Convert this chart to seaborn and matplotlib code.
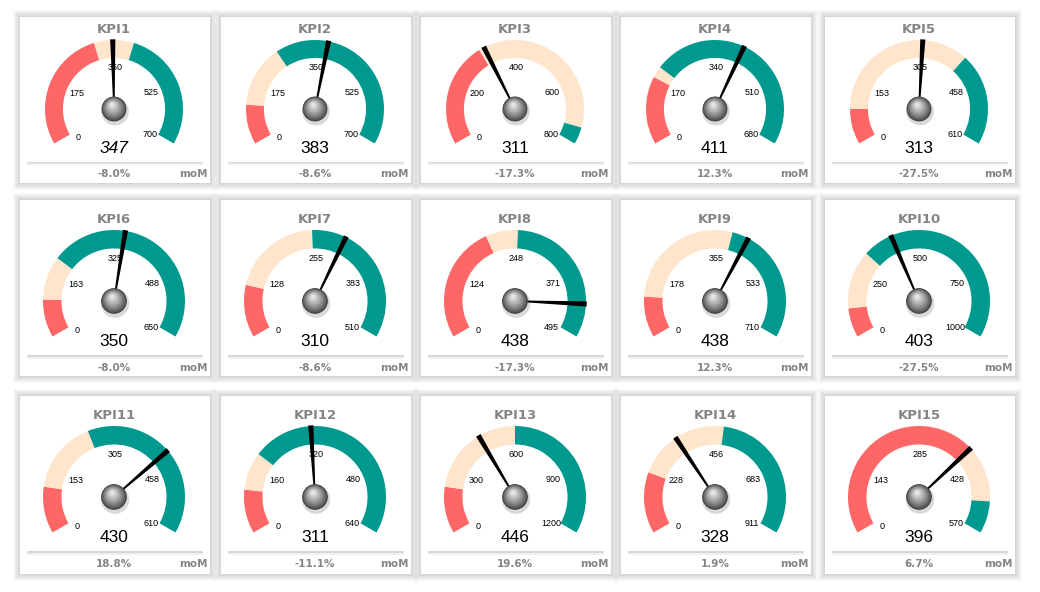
import numpy as np
import matplotlib.pyplot as plt
from matplotlib.patches import Wedge, Circle, Polygon, Rectangle
import seaborn as sns

# ---- data ----
kpi_names = ["KPI%d" % i for i in range(1, 16)]
kpi_values = [347, 383, 311, 411, 313, 350, 310, 438, 438, 403, 430, 311, 446, 328, 396]
gauge_max = [700, 700, 800, 680, 610, 650, 510, 495, 710, 1000, 610, 640, 1200, 911, 570]
# band limits as share of the scale (red 0..red_end, peach ..peach_end, teal ..max)
red_end = [0.43, 0.14, 0.37, 0.24, 0.125, 0.13, 0.18, 0.40, 0.14, 0.10, 0.16, 0.15, 0.16, 0.21, 0.70]
peach_end = [0.57, 0.36, 0.94, 0.28, 0.675, 0.28, 0.49, 0.51, 0.56, 0.30, 0.41, 0.28, 0.50, 0.53, 0.89]
mom_change = ["-8.0%", "-8.6%", "-17.3%", "12.3%", "-27.5%",
              "-8.0%", "-8.6%", "-17.3%", "12.3%", "-27.5%",
              "18.8%", "-11.1%", "19.6%", "1.9%", "6.7%"]

W, H = 1040, 592
card_lefts = [20, 221, 421, 621, 825]
card_w = 190
row_tops = [17, 200, 396]
row_heights = [166, 176, 178]
row_radius = [69, 71, 71]

sns.set_theme(style="white")
red, peach, teal = sns.color_palette(["#FF6666", "#FFE5CC", "#00998F"])
grey_txt = "#858585"

START, SPAN = 210.0, 240.0


def to_angle(frac):
    return START - SPAN * frac


def draw_knob(ax, cx, cy, r):
    ax.add_patch(Circle((cx + 1, cy - 2.5), r + 1.5, color="#000000", alpha=0.15, lw=0, zorder=5))
    n = 30
    dark = np.array([0.24, 0.24, 0.24])
    light = np.array([0.90, 0.90, 0.90])
    for i in range(n):
        t = i / (n - 1)
        rr = r * (1 - 0.88 * t)
        col = dark + (light - dark) * t ** 0.8
        ax.add_patch(Circle((cx - 0.15 * r * t, cy + 0.35 * r * t), rr, color=col, lw=0, zorder=6))


def draw_card(ax, idx, left, top, h, R):
    b = H - top - h
    for k in range(7, 0, -1):
        ax.add_patch(Rectangle((left - k, b - k), card_w + 2 * k, h + 2 * k,
                               color="#000000", alpha=0.025, lw=0, zorder=1))
    ax.add_patch(Rectangle((left, b), card_w, h, color="white", lw=0, zorder=2))

    cx = left + 94
    cy = H - top - (92 if h < 170 else 101)
    vmax = gauge_max[idx]

    bands = [(0, red_end[idx], red), (red_end[idx], peach_end[idx], peach), (peach_end[idx], 1.0, teal)]
    for f0, f1, col in bands:
        ax.add_patch(Wedge((cx, cy), R, to_angle(f1), to_angle(f0), width=0.26 * R,
                           color=col, lw=0, zorder=3))

    # scale labels
    ticks = [int(vmax * k / 4 + 0.5) for k in range(5)]
    lab_ang = [219, 157, 88, 24, -36]
    lab_r = [0.66, 0.59, 0.6, 0.59, 0.64]
    for t, a, rf in zip(ticks, lab_ang, lab_r):
        ax.text(cx + rf * R * np.cos(np.radians(a)), cy + rf * R * np.sin(np.radians(a)),
                str(t), ha="center", va="center", fontsize=6.5, color="black",
                family="Liberation Sans", zorder=4)

    # needle
    th = np.radians(to_angle(kpi_values[idx] / vmax))
    d = np.array([np.cos(th), np.sin(th)])
    p = np.array([-d[1], d[0]])
    c = np.array([cx, cy])
    pts = [c + p * 0.6, c + d * R * 1.01 + p * 2.6, c + d * R * 1.01 - p * 2.6, c - p * 0.6]
    ax.add_patch(Polygon(pts, closed=True, color="black", lw=0, zorder=4.5))

    draw_knob(ax, cx, cy, 0.18 * R)

    ax.text(cx, cy + 1.15 * R, kpi_names[idx], ha="center", va="center", fontsize=9.5,
            fontweight="bold", color=grey_txt, family="DejaVu Sans", zorder=7)
    ax.text(cx, cy - 0.57 * R, str(kpi_values[idx]), ha="center", va="center", fontsize=12.5,
            color="black", family="Liberation Sans",
            style="italic" if idx == 0 else "normal", zorder=7)

    ys = cy - 0.78 * R
    ax.plot([left + 8, left + card_w - 8], [ys, ys], color="#d6d6d6", lw=1.5, zorder=7)
    ax.plot([left + 8, left + card_w - 8], [ys - 1.5, ys - 1.5], color="#eeeeee", lw=1.2, zorder=7)
    yp = cy - 0.94 * R
    ax.text(cx, yp, mom_change[idx], ha="center", va="center", fontsize=7.5,
            fontweight="bold", color=grey_txt, family="DejaVu Sans", zorder=7)
    ax.text(left + card_w - 17, yp, "moM", ha="center", va="center", fontsize=7.5,
            fontweight="bold", color=grey_txt, family="DejaVu Sans", zorder=7)


fig = plt.figure(figsize=(10.4, 5.92), dpi=100)
fig.patch.set_facecolor("white")
ax = fig.add_axes([0, 0, 1, 1])
ax.set_xlim(0, W)
ax.set_ylim(0, H)
ax.axis("off")

for idx in range(15):
    row, col = divmod(idx, 5)
    draw_card(ax, idx, card_lefts[col], row_tops[row], row_heights[row], row_radius[row])

fig.savefig("out.png", dpi=100, facecolor="white")
